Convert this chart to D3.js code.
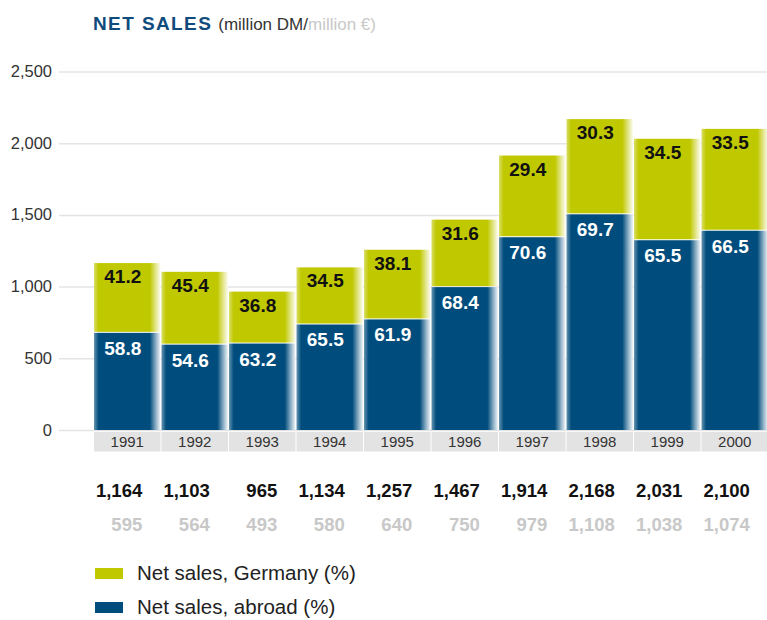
<!DOCTYPE html>
<html>
<head>
<meta charset="utf-8">
<script src="https://cdn.jsdelivr.net/npm/d3@7"></script>
<style>
  html, body { margin: 0; padding: 0; background: #fff; }
  svg { display: block; font-family: "Liberation Sans", Arial, Helvetica, sans-serif; }
</style>
</head>
<body>
<svg id="chart" width="767" height="620"></svg>
<script>
// Net sales by year, million DM (bar totals) and million euro
const years = ["1991", "1992", "1993", "1994", "1995", "1996", "1997", "1998", "1999", "2000"];
const salesDM = [1164, 1103, 965, 1134, 1257, 1467, 1914, 2168, 2031, 2100];
const salesEUR = [595, 564, 493, 580, 640, 750, 979, 1108, 1038, 1074];
// Share of net sales in Germany and abroad (%)
const germanyPct = [41.2, 45.4, 36.8, 34.5, 38.1, 31.6, 29.4, 30.3, 34.5, 33.5];
const abroadPct = [58.8, 54.6, 63.2, 65.5, 61.9, 68.4, 70.6, 69.7, 65.5, 66.5];
const yTicks = [0, 500, 1000, 1500, 2000, 2500];

const GREEN = "#c0c800";
const BLUE = "#004d7d";

const svg = d3.select("#chart");
const fmt = d3.format(",");

const x = d3.scaleBand().domain(years).range([94, 768]).paddingInner(0.015).paddingOuter(0);
const y = d3.scaleLinear().domain([0, 2500]).range([430, 71.5]);

// Horizontal gradients giving the bars their soft edges
const defs = svg.append("defs");
function edgeGradient(id, color) {
  const c = d3.color(color);
  const light = d3.interpolateRgb(color, "#ffffff");
  const g = defs.append("linearGradient").attr("id", id)
    .attr("x1", "0").attr("x2", "1").attr("y1", "0").attr("y2", "0");
  g.append("stop").attr("offset", "0").attr("stop-color", light(0.4));
  g.append("stop").attr("offset", "0.07").attr("stop-color", c.formatHex());
  g.append("stop").attr("offset", "0.84").attr("stop-color", c.formatHex());
  g.append("stop").attr("offset", "0.93").attr("stop-color", light(0.55));
  g.append("stop").attr("offset", "1").attr("stop-color", light(0.95));
}
edgeGradient("gradGreen", GREEN);
edgeGradient("gradBlue", BLUE);

// Title
const title = svg.append("text").attr("x", 93).attr("y", 30);
title.append("tspan").text("NET SALES")
  .attr("font-size", 19).attr("font-weight", 900).attr("letter-spacing", 1.4)
  .attr("fill", "#0f4c7d");
title.append("tspan").text("(million DM/").attr("dx", 6).attr("font-size", 17).attr("fill", "#333");
title.append("tspan").text("million €)").attr("font-size", 17).attr("fill", "#c8c8c8");

// Gridlines and value axis
const yAxis = d3.axisLeft(y).tickValues(yTicks).tickFormat(fmt).tickSize(0).tickPadding(0);
const gy = svg.append("g").attr("transform", "translate(52,0)").call(yAxis);
gy.select(".domain").remove();
gy.selectAll(".tick text")
  .attr("font-size", 16.5).attr("fill", "#333").attr("font-family", null)
  .attr("dy", 5).attr("text-anchor", "end");
gy.selectAll(".tick").append("line")
  .attr("x1", 7).attr("x2", 767 - 52).attr("y1", 0).attr("y2", 0)
  .attr("stroke", "#e4e4e4").attr("stroke-width", 1.5);

// Stacked bars: abroad at the bottom, Germany on top
const rows = years.map((yr, i) => ({
  year: yr,
  total: salesDM[i],
  abroad: salesDM[i] * abroadPct[i] / 100,
  de: germanyPct[i],
  ab: abroadPct[i]
}));

const bars = svg.append("g").selectAll("g").data(rows).join("g");
bars.append("rect")
  .attr("x", d => x(d.year)).attr("width", x.bandwidth())
  .attr("y", d => y(d.total)).attr("height", d => y(d.abroad) - y(d.total))
  .attr("fill", "url(#gradGreen)");
bars.append("rect")
  .attr("x", d => x(d.year)).attr("width", x.bandwidth())
  .attr("y", d => y(d.abroad) + 1).attr("height", d => y(0) - y(d.abroad) - 1)
  .attr("fill", "url(#gradBlue)");

// Percentage labels inside the segments
bars.append("text")
  .attr("x", d => x(d.year) + x.bandwidth() / 2 + 14)
  .attr("y", d => y(d.total) + 20)
  .attr("text-anchor", "end").attr("font-size", 19).attr("font-weight", "bold")
  .attr("fill", "#111")
  .text(d => d.de.toFixed(1));
bars.append("text")
  .attr("x", d => x(d.year) + x.bandwidth() / 2 + 14)
  .attr("y", d => y(d.abroad) + 23)
  .attr("text-anchor", "end").attr("font-size", 19).attr("font-weight", "bold")
  .attr("fill", "#fff")
  .text(d => d.ab.toFixed(1));

// Year band below the bars
const band = svg.append("g");
band.selectAll("rect").data(years).join("rect")
  .attr("x", d => x(d)).attr("width", x.bandwidth())
  .attr("y", 432).attr("height", 19.5)
  .attr("fill", "#e3e3e3");
band.selectAll("text").data(years).join("text")
  .attr("x", d => x(d) + x.bandwidth() / 2)
  .attr("y", 447)
  .attr("text-anchor", "middle").attr("font-size", 15).attr("fill", "#333")
  .text(d => d);

// Totals: million DM and million euro
const totals = svg.append("g");
totals.selectAll("text.dm").data(years).join("text").attr("class", "dm")
  .attr("x", d => x(d) + x.bandwidth() / 2 + 15)
  .attr("y", 497)
  .attr("text-anchor", "end").attr("font-size", 18.5).attr("font-weight", "bold")
  .attr("fill", "#111")
  .text((d, i) => fmt(salesDM[i]));
totals.selectAll("text.eur").data(years).join("text").attr("class", "eur")
  .attr("x", d => x(d) + x.bandwidth() / 2 + 15)
  .attr("y", 531)
  .attr("text-anchor", "end").attr("font-size", 18.5).attr("font-weight", "bold")
  .attr("fill", "#c8c8c8")
  .text((d, i) => fmt(salesEUR[i]));

// Legend
const legendItems = [
  { label: "Net sales, Germany (%)", color: GREEN },
  { label: "Net sales, abroad (%)", color: BLUE }
];
const legend = svg.append("g");
legend.selectAll("rect").data(legendItems).join("rect")
  .attr("x", 95).attr("y", (d, i) => 568 + i * 34)
  .attr("width", 28).attr("height", 11)
  .attr("fill", d => d.color);
legend.selectAll("text").data(legendItems).join("text")
  .attr("x", 137).attr("y", (d, i) => 580 + i * 34)
  .attr("font-size", 20.5).attr("fill", "#222")
  .text(d => d.label);
</script>
</body>
</html>
